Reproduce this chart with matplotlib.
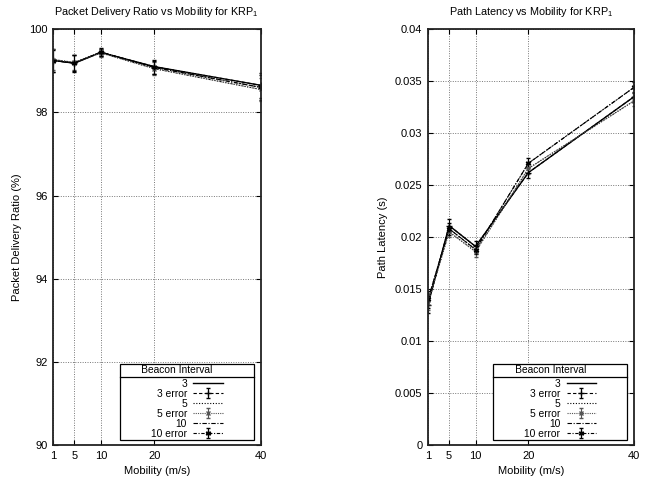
import matplotlib
matplotlib.use('Agg')
import matplotlib.pyplot as plt
from matplotlib.lines import Line2D

plt.rcParams['font.family'] = ['Liberation Sans', 'DejaVu Sans']
plt.rcParams['mathtext.default'] = 'regular'
plt.rcParams['font.size'] = 8

mobility = [1, 5, 10, 20, 40]
x_ticks = [1, 5, 10, 20, 40]

pdr_3 = [99.25, 99.18, 99.44, 99.10, 98.65]
pdr_5 = [99.27, 99.20, 99.43, 99.05, 98.55]
pdr_10 = [99.24, 99.19, 99.45, 99.08, 98.60]
pdr_err_3 = [0.27, 0.20, 0.08, 0.17, 0.30]
pdr_err_5 = [0.25, 0.18, 0.10, 0.15, 0.28]
pdr_err_10 = [0.26, 0.20, 0.09, 0.16, 0.30]

lat_3 = [0.0135, 0.0211, 0.0191, 0.0262, 0.0335]
lat_5 = [0.0137, 0.0205, 0.0186, 0.0266, 0.0331]
lat_10 = [0.0140, 0.0208, 0.0188, 0.0271, 0.0344]
lat_err_3 = [0.0008, 0.0006, 0.0005, 0.0005, 0.0005]
lat_err_5 = [0.0007, 0.0005, 0.0005, 0.0005, 0.0005]
lat_err_10 = [0.0008, 0.0006, 0.0004, 0.0005, 0.0005]

labels = ['3', '3 error', '5', '5 error', '10', '10 error']

fig = plt.figure(figsize=(6.49, 4.78), dpi=100)
ax1 = fig.add_axes([0.0817, 0.069, 0.320, 0.870])
ax2 = fig.add_axes([0.6595, 0.069, 0.3174, 0.870])

asterisk = (6, 2, 0)


def draw_panel(ax, s3, s5, s10, e3, e5, e10):
    h = []
    h.append(ax.plot(mobility, s3, color='black', ls='-', lw=1.0)[0])
    h.append(ax.errorbar(mobility, s3, yerr=e3, color='black', ls=(0, (3, 2)), lw=0.8,
                         marker='+', ms=4, capsize=1.5, elinewidth=0.8))
    h.append(ax.plot(mobility, s5, color='black', ls=(0, (1, 1.5)), lw=0.8)[0])
    h.append(ax.errorbar(mobility, s5, yerr=e5, color='#555555', ls=(0, (1, 1)), lw=0.8,
                         marker='x', ms=3, capsize=1.5, elinewidth=0.8))
    h.append(ax.plot(mobility, s10, color='black', ls=(0, (4, 1.5, 1, 1.5)), lw=0.8)[0])
    h.append(ax.errorbar(mobility, s10, yerr=e10, color='black', ls=(0, (3, 1.5, 1, 1.5)), lw=0.8,
                         marker=asterisk, ms=4, capsize=1.5, elinewidth=0.8))
    ax.set_xlim(1, 40)
    ax.set_xticks(x_ticks)
    ax.tick_params(direction='in', top=True, right=True, length=3.5, width=0.8, pad=4)
    ax.grid(True, color='#777777', ls=(0, (1, 1.5)), lw=0.7)
    for s in ax.spines.values():
        s.set_linewidth(1.3)
        s.set_color('#222222')
    ax.set_xlabel('Mobility (m/s)', labelpad=4)
    leg = ax.legend(h, labels, title='       Beacon Interval              ',
                    loc='lower right', bbox_to_anchor=(0.968, 0.012), markerfirst=False,
                    fancybox=False, edgecolor='black', framealpha=1, borderpad=0.12,
                    labelspacing=0.0, handlelength=2.9, handletextpad=0.6,
                    fontsize=7.4, title_fontsize=7.4, borderaxespad=0)
    leg.get_frame().set_linewidth(0.9)
    # a little room between the title and the entries
    leg._legend_box.sep = 2.5
    return leg


leg1 = draw_panel(ax1, pdr_3, pdr_5, pdr_10, pdr_err_3, pdr_err_5, pdr_err_10)
ax1.set_ylim(90, 100)
ax1.set_yticks([90, 92, 94, 96, 98, 100])
ax1.set_ylabel('Packet Delivery Ratio (%)', labelpad=5)
ax1.set_title('Packet Delivery Ratio vs Mobility for KRP$_1$', pad=10, fontsize=7.8)

leg2 = draw_panel(ax2, lat_3, lat_5, lat_10, lat_err_3, lat_err_5, lat_err_10)
ax2.set_ylim(0, 0.04)
ax2.set_yticks([0, 0.005, 0.01, 0.015, 0.02, 0.025, 0.03, 0.035, 0.04])
ax2.set_yticklabels(['0', '0.005', '0.01', '0.015', '0.02', '0.025', '0.03', '0.035', '0.04'])
ax2.set_ylabel('Path Latency (s)', labelpad=5)
ax2.set_title('Path Latency vs Mobility for KRP$_1$', pad=10, fontsize=7.8)

# separator line under the legend title
fig.canvas.draw()
r = fig.canvas.get_renderer()
inv = fig.transFigure.inverted()
for leg in (leg1, leg2):
    lb = leg.get_window_extent(r)
    tb = leg.get_title().get_window_extent(r)
    (x0, y0), (x1, _) = inv.transform([(lb.x0, tb.y0 - 1.2), (lb.x1, tb.y0 - 1.2)])
    fig.add_artist(Line2D([x0, x1], [y0, y0], transform=fig.transFigure, color='black', lw=0.9))

fig.savefig('out.png', dpi=100)
